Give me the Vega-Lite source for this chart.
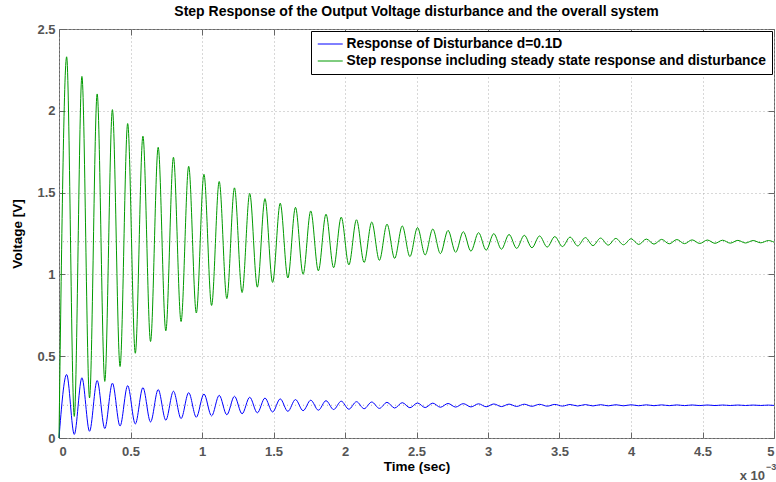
{
  "$schema": "https://vega.github.io/schema/vega-lite/v6.json",
  "width": 715,
  "height": 409,
  "autosize": {"type": "none"},
  "padding": {"left": 59, "top": 29, "right": 2, "bottom": 44},
  "background": "white",
  "title": {
    "text": "Step Response of the Output Voltage disturbance and the overall system",
    "font": "Liberation Sans",
    "fontSize": 14,
    "fontWeight": "bold",
    "color": "black",
    "anchor": "middle",
    "baseline": "alphabetic",
    "offset": -7
  },
  "config": {
    "view": {"stroke": "#666666", "strokeWidth": 1},
    "axis": {
      "labelFont": "Liberation Sans",
      "labelFontSize": 13,
      "labelFontWeight": "bold",
      "labelColor": "#555555",
      "titleFont": "Liberation Sans",
      "titleFontSize": 13.5,
      "titleFontWeight": "bold",
      "titleColor": "black",
      "domain": false,
      "tickColor": "#666666",
      "tickSize": -6,
      "tickWidth": 1,
      "gridColor": "#b0b0b0",
      "gridDash": [1, 3],
      "gridWidth": 1
    }
  },
  "layer": [
    {
      "data": {"values": [{"level": 0.2}, {"level": 1.2}]},
      "mark": {"type": "rule", "color": "#b0b0b0", "strokeDash": [1, 3], "strokeWidth": 1},
      "encoding": {
        "x": {"datum": 0, "type": "quantitative", "scale": {"domain": [0, 5], "nice": false},
          "axis": {"orient": "top", "values": [0, 0.5, 1, 1.5, 2, 2.5, 3, 3.5, 4, 4.5, 5], "labels": false, "grid": false, "title": null}},
        "x2": {"datum": 5},
        "y": {"field": "level", "type": "quantitative", "scale": {"domain": [0, 2.5], "nice": false},
          "axis": {"orient": "right", "values": [0, 0.5, 1, 1.5, 2, 2.5], "labels": false, "grid": false, "title": null}}
      }
    },
    {
      "data": {"values": [
        {"series": "Response of Disturbance d=0.1D", "t": 0, "v": 0},
        {"series": "Response of Disturbance d=0.1D", "t": 0.0535, "v": 0.388},
        {"series": "Response of Disturbance d=0.1D", "t": 0.1068, "v": 0.022},
        {"series": "Response of Disturbance d=0.1D", "t": 0.1602, "v": 0.368},
        {"series": "Response of Disturbance d=0.1D", "t": 0.2135, "v": 0.041},
        {"series": "Response of Disturbance d=0.1D", "t": 0.2669, "v": 0.351},
        {"series": "Response of Disturbance d=0.1D", "t": 0.3202, "v": 0.058},
        {"series": "Response of Disturbance d=0.1D", "t": 0.3735, "v": 0.335},
        {"series": "Response of Disturbance d=0.1D", "t": 0.4269, "v": 0.073},
        {"series": "Response of Disturbance d=0.1D", "t": 0.4802, "v": 0.320},
        {"series": "Response of Disturbance d=0.1D", "t": 0.5336, "v": 0.086},
        {"series": "Response of Disturbance d=0.1D", "t": 0.5869, "v": 0.308},
        {"series": "Response of Disturbance d=0.1D", "t": 0.6402, "v": 0.098},
        {"series": "Response of Disturbance d=0.1D", "t": 0.6936, "v": 0.296},
        {"series": "Response of Disturbance d=0.1D", "t": 0.7469, "v": 0.109},
        {"series": "Response of Disturbance d=0.1D", "t": 0.8003, "v": 0.286},
        {"series": "Response of Disturbance d=0.1D", "t": 0.8536, "v": 0.119},
        {"series": "Response of Disturbance d=0.1D", "t": 0.9069, "v": 0.277},
        {"series": "Response of Disturbance d=0.1D", "t": 0.9603, "v": 0.127},
        {"series": "Response of Disturbance d=0.1D", "t": 1.0136, "v": 0.269},
        {"series": "Response of Disturbance d=0.1D", "t": 1.0670, "v": 0.135},
        {"series": "Response of Disturbance d=0.1D", "t": 1.1203, "v": 0.261},
        {"series": "Response of Disturbance d=0.1D", "t": 1.1736, "v": 0.142},
        {"series": "Response of Disturbance d=0.1D", "t": 1.2270, "v": 0.255},
        {"series": "Response of Disturbance d=0.1D", "t": 1.2803, "v": 0.148},
        {"series": "Response of Disturbance d=0.1D", "t": 1.3337, "v": 0.249},
        {"series": "Response of Disturbance d=0.1D", "t": 1.3870, "v": 0.154},
        {"series": "Response of Disturbance d=0.1D", "t": 1.4403, "v": 0.244},
        {"series": "Response of Disturbance d=0.1D", "t": 1.4937, "v": 0.159},
        {"series": "Response of Disturbance d=0.1D", "t": 1.5470, "v": 0.239},
        {"series": "Response of Disturbance d=0.1D", "t": 1.6004, "v": 0.163},
        {"series": "Response of Disturbance d=0.1D", "t": 1.6537, "v": 0.235},
        {"series": "Response of Disturbance d=0.1D", "t": 1.7070, "v": 0.167},
        {"series": "Response of Disturbance d=0.1D", "t": 1.7604, "v": 0.231},
        {"series": "Response of Disturbance d=0.1D", "t": 1.8137, "v": 0.170},
        {"series": "Response of Disturbance d=0.1D", "t": 1.8671, "v": 0.228},
        {"series": "Response of Disturbance d=0.1D", "t": 1.9204, "v": 0.174},
        {"series": "Response of Disturbance d=0.1D", "t": 1.9737, "v": 0.225},
        {"series": "Response of Disturbance d=0.1D", "t": 2.0271, "v": 0.176},
        {"series": "Response of Disturbance d=0.1D", "t": 2.0804, "v": 0.222},
        {"series": "Response of Disturbance d=0.1D", "t": 2.1338, "v": 0.179},
        {"series": "Response of Disturbance d=0.1D", "t": 2.1871, "v": 0.220},
        {"series": "Response of Disturbance d=0.1D", "t": 2.2404, "v": 0.181},
        {"series": "Response of Disturbance d=0.1D", "t": 2.2938, "v": 0.218},
        {"series": "Response of Disturbance d=0.1D", "t": 2.3471, "v": 0.183},
        {"series": "Response of Disturbance d=0.1D", "t": 2.4005, "v": 0.216},
        {"series": "Response of Disturbance d=0.1D", "t": 2.4538, "v": 0.185},
        {"series": "Response of Disturbance d=0.1D", "t": 2.5071, "v": 0.214},
        {"series": "Response of Disturbance d=0.1D", "t": 2.5605, "v": 0.186},
        {"series": "Response of Disturbance d=0.1D", "t": 2.6138, "v": 0.213},
        {"series": "Response of Disturbance d=0.1D", "t": 2.6672, "v": 0.188},
        {"series": "Response of Disturbance d=0.1D", "t": 2.7205, "v": 0.211},
        {"series": "Response of Disturbance d=0.1D", "t": 2.7738, "v": 0.189},
        {"series": "Response of Disturbance d=0.1D", "t": 2.8272, "v": 0.210},
        {"series": "Response of Disturbance d=0.1D", "t": 2.8805, "v": 0.190},
        {"series": "Response of Disturbance d=0.1D", "t": 2.9339, "v": 0.209},
        {"series": "Response of Disturbance d=0.1D", "t": 2.9872, "v": 0.191},
        {"series": "Response of Disturbance d=0.1D", "t": 3.0405, "v": 0.208},
        {"series": "Response of Disturbance d=0.1D", "t": 3.0939, "v": 0.192},
        {"series": "Response of Disturbance d=0.1D", "t": 3.1472, "v": 0.207},
        {"series": "Response of Disturbance d=0.1D", "t": 3.2006, "v": 0.193},
        {"series": "Response of Disturbance d=0.1D", "t": 3.2539, "v": 0.2065},
        {"series": "Response of Disturbance d=0.1D", "t": 3.3072, "v": 0.1938},
        {"series": "Response of Disturbance d=0.1D", "t": 3.3606, "v": 0.2059},
        {"series": "Response of Disturbance d=0.1D", "t": 3.4139, "v": 0.1945},
        {"series": "Response of Disturbance d=0.1D", "t": 3.4673, "v": 0.2052},
        {"series": "Response of Disturbance d=0.1D", "t": 3.5206, "v": 0.1951},
        {"series": "Response of Disturbance d=0.1D", "t": 3.5739, "v": 0.2047},
        {"series": "Response of Disturbance d=0.1D", "t": 3.6273, "v": 0.1956},
        {"series": "Response of Disturbance d=0.1D", "t": 3.6806, "v": 0.2042},
        {"series": "Response of Disturbance d=0.1D", "t": 3.7340, "v": 0.1960},
        {"series": "Response of Disturbance d=0.1D", "t": 3.7873, "v": 0.2037},
        {"series": "Response of Disturbance d=0.1D", "t": 3.8406, "v": 0.1965},
        {"series": "Response of Disturbance d=0.1D", "t": 3.8940, "v": 0.2033},
        {"series": "Response of Disturbance d=0.1D", "t": 3.9473, "v": 0.1968},
        {"series": "Response of Disturbance d=0.1D", "t": 4.0007, "v": 0.2030},
        {"series": "Response of Disturbance d=0.1D", "t": 4.0540, "v": 0.1972},
        {"series": "Response of Disturbance d=0.1D", "t": 4.1073, "v": 0.2027},
        {"series": "Response of Disturbance d=0.1D", "t": 4.1607, "v": 0.1975},
        {"series": "Response of Disturbance d=0.1D", "t": 4.2140, "v": 0.2024},
        {"series": "Response of Disturbance d=0.1D", "t": 4.2674, "v": 0.1977},
        {"series": "Response of Disturbance d=0.1D", "t": 4.3207, "v": 0.2021},
        {"series": "Response of Disturbance d=0.1D", "t": 4.3740, "v": 0.1980},
        {"series": "Response of Disturbance d=0.1D", "t": 4.4274, "v": 0.2019},
        {"series": "Response of Disturbance d=0.1D", "t": 4.4807, "v": 0.1982},
        {"series": "Response of Disturbance d=0.1D", "t": 4.5341, "v": 0.2017},
        {"series": "Response of Disturbance d=0.1D", "t": 4.5874, "v": 0.1984},
        {"series": "Response of Disturbance d=0.1D", "t": 4.6407, "v": 0.2015},
        {"series": "Response of Disturbance d=0.1D", "t": 4.6941, "v": 0.1986},
        {"series": "Response of Disturbance d=0.1D", "t": 4.7474, "v": 0.2014},
        {"series": "Response of Disturbance d=0.1D", "t": 4.8008, "v": 0.1987},
        {"series": "Response of Disturbance d=0.1D", "t": 4.8541, "v": 0.2012},
        {"series": "Response of Disturbance d=0.1D", "t": 4.9074, "v": 0.1988},
        {"series": "Response of Disturbance d=0.1D", "t": 4.9608, "v": 0.2011},
        {"series": "Response of Disturbance d=0.1D", "t": 5.0, "v": 0.1992},
        {"series": "Step response including steady state response and disturbance", "t": 0, "v": 0},
        {"series": "Step response including steady state response and disturbance", "t": 0.0535, "v": 2.330},
        {"series": "Step response including steady state response and disturbance", "t": 0.1068, "v": 0.132},
        {"series": "Step response including steady state response and disturbance", "t": 0.1602, "v": 2.210},
        {"series": "Step response including steady state response and disturbance", "t": 0.2135, "v": 0.245},
        {"series": "Step response including steady state response and disturbance", "t": 0.2669, "v": 2.103},
        {"series": "Step response including steady state response and disturbance", "t": 0.3202, "v": 0.346},
        {"series": "Step response including steady state response and disturbance", "t": 0.3735, "v": 2.007},
        {"series": "Step response including steady state response and disturbance", "t": 0.4269, "v": 0.437},
        {"series": "Step response including steady state response and disturbance", "t": 0.4802, "v": 1.922},
        {"series": "Step response including steady state response and disturbance", "t": 0.5336, "v": 0.518},
        {"series": "Step response including steady state response and disturbance", "t": 0.5869, "v": 1.845},
        {"series": "Step response including steady state response and disturbance", "t": 0.6402, "v": 0.590},
        {"series": "Step response including steady state response and disturbance", "t": 0.6936, "v": 1.777},
        {"series": "Step response including steady state response and disturbance", "t": 0.7469, "v": 0.655},
        {"series": "Step response including steady state response and disturbance", "t": 0.8003, "v": 1.716},
        {"series": "Step response including steady state response and disturbance", "t": 0.8536, "v": 0.712},
        {"series": "Step response including steady state response and disturbance", "t": 0.9069, "v": 1.661},
        {"series": "Step response including steady state response and disturbance", "t": 0.9603, "v": 0.764},
        {"series": "Step response including steady state response and disturbance", "t": 1.0136, "v": 1.612},
        {"series": "Step response including steady state response and disturbance", "t": 1.0670, "v": 0.810},
        {"series": "Step response including steady state response and disturbance", "t": 1.1203, "v": 1.568},
        {"series": "Step response including steady state response and disturbance", "t": 1.1736, "v": 0.852},
        {"series": "Step response including steady state response and disturbance", "t": 1.2270, "v": 1.529},
        {"series": "Step response including steady state response and disturbance", "t": 1.2803, "v": 0.889},
        {"series": "Step response including steady state response and disturbance", "t": 1.3337, "v": 1.495},
        {"series": "Step response including steady state response and disturbance", "t": 1.3870, "v": 0.922},
        {"series": "Step response including steady state response and disturbance", "t": 1.4403, "v": 1.463},
        {"series": "Step response including steady state response and disturbance", "t": 1.4937, "v": 0.951},
        {"series": "Step response including steady state response and disturbance", "t": 1.5470, "v": 1.435},
        {"series": "Step response including steady state response and disturbance", "t": 1.6004, "v": 0.978},
        {"series": "Step response including steady state response and disturbance", "t": 1.6537, "v": 1.410},
        {"series": "Step response including steady state response and disturbance", "t": 1.7070, "v": 1.001},
        {"series": "Step response including steady state response and disturbance", "t": 1.7604, "v": 1.388},
        {"series": "Step response including steady state response and disturbance", "t": 1.8137, "v": 1.022},
        {"series": "Step response including steady state response and disturbance", "t": 1.8671, "v": 1.368},
        {"series": "Step response including steady state response and disturbance", "t": 1.9204, "v": 1.041},
        {"series": "Step response including steady state response and disturbance", "t": 1.9737, "v": 1.350},
        {"series": "Step response including steady state response and disturbance", "t": 2.0271, "v": 1.058},
        {"series": "Step response including steady state response and disturbance", "t": 2.0804, "v": 1.334},
        {"series": "Step response including steady state response and disturbance", "t": 2.1338, "v": 1.073},
        {"series": "Step response including steady state response and disturbance", "t": 2.1871, "v": 1.320},
        {"series": "Step response including steady state response and disturbance", "t": 2.2404, "v": 1.086},
        {"series": "Step response including steady state response and disturbance", "t": 2.2938, "v": 1.307},
        {"series": "Step response including steady state response and disturbance", "t": 2.3471, "v": 1.098},
        {"series": "Step response including steady state response and disturbance", "t": 2.4005, "v": 1.296},
        {"series": "Step response including steady state response and disturbance", "t": 2.4538, "v": 1.109},
        {"series": "Step response including steady state response and disturbance", "t": 2.5071, "v": 1.286},
        {"series": "Step response including steady state response and disturbance", "t": 2.5605, "v": 1.119},
        {"series": "Step response including steady state response and disturbance", "t": 2.6138, "v": 1.277},
        {"series": "Step response including steady state response and disturbance", "t": 2.6672, "v": 1.127},
        {"series": "Step response including steady state response and disturbance", "t": 2.7205, "v": 1.269},
        {"series": "Step response including steady state response and disturbance", "t": 2.7738, "v": 1.135},
        {"series": "Step response including steady state response and disturbance", "t": 2.8272, "v": 1.261},
        {"series": "Step response including steady state response and disturbance", "t": 2.8805, "v": 1.142},
        {"series": "Step response including steady state response and disturbance", "t": 2.9339, "v": 1.255},
        {"series": "Step response including steady state response and disturbance", "t": 2.9872, "v": 1.148},
        {"series": "Step response including steady state response and disturbance", "t": 3.0405, "v": 1.249},
        {"series": "Step response including steady state response and disturbance", "t": 3.0939, "v": 1.154},
        {"series": "Step response including steady state response and disturbance", "t": 3.1472, "v": 1.244},
        {"series": "Step response including steady state response and disturbance", "t": 3.2006, "v": 1.159},
        {"series": "Step response including steady state response and disturbance", "t": 3.2539, "v": 1.239},
        {"series": "Step response including steady state response and disturbance", "t": 3.3072, "v": 1.163},
        {"series": "Step response including steady state response and disturbance", "t": 3.3606, "v": 1.235},
        {"series": "Step response including steady state response and disturbance", "t": 3.4139, "v": 1.167},
        {"series": "Step response including steady state response and disturbance", "t": 3.4673, "v": 1.231},
        {"series": "Step response including steady state response and disturbance", "t": 3.5206, "v": 1.170},
        {"series": "Step response including steady state response and disturbance", "t": 3.5739, "v": 1.228},
        {"series": "Step response including steady state response and disturbance", "t": 3.6273, "v": 1.174},
        {"series": "Step response including steady state response and disturbance", "t": 3.6806, "v": 1.225},
        {"series": "Step response including steady state response and disturbance", "t": 3.7340, "v": 1.176},
        {"series": "Step response including steady state response and disturbance", "t": 3.7873, "v": 1.222},
        {"series": "Step response including steady state response and disturbance", "t": 3.8406, "v": 1.179},
        {"series": "Step response including steady state response and disturbance", "t": 3.8940, "v": 1.220},
        {"series": "Step response including steady state response and disturbance", "t": 3.9473, "v": 1.181},
        {"series": "Step response including steady state response and disturbance", "t": 4.0007, "v": 1.218},
        {"series": "Step response including steady state response and disturbance", "t": 4.0540, "v": 1.183},
        {"series": "Step response including steady state response and disturbance", "t": 4.1073, "v": 1.216},
        {"series": "Step response including steady state response and disturbance", "t": 4.1607, "v": 1.185},
        {"series": "Step response including steady state response and disturbance", "t": 4.2140, "v": 1.214},
        {"series": "Step response including steady state response and disturbance", "t": 4.2674, "v": 1.187},
        {"series": "Step response including steady state response and disturbance", "t": 4.3207, "v": 1.213},
        {"series": "Step response including steady state response and disturbance", "t": 4.3740, "v": 1.188},
        {"series": "Step response including steady state response and disturbance", "t": 4.4274, "v": 1.211},
        {"series": "Step response including steady state response and disturbance", "t": 4.4807, "v": 1.189},
        {"series": "Step response including steady state response and disturbance", "t": 4.5341, "v": 1.210},
        {"series": "Step response including steady state response and disturbance", "t": 4.5874, "v": 1.190},
        {"series": "Step response including steady state response and disturbance", "t": 4.6407, "v": 1.209},
        {"series": "Step response including steady state response and disturbance", "t": 4.6941, "v": 1.191},
        {"series": "Step response including steady state response and disturbance", "t": 4.7474, "v": 1.208},
        {"series": "Step response including steady state response and disturbance", "t": 4.8008, "v": 1.192},
        {"series": "Step response including steady state response and disturbance", "t": 4.8541, "v": 1.207},
        {"series": "Step response including steady state response and disturbance", "t": 4.9074, "v": 1.193},
        {"series": "Step response including steady state response and disturbance", "t": 4.9608, "v": 1.207},
        {"series": "Step response including steady state response and disturbance", "t": 5.0, "v": 1.197}
      ]},
      "mark": {"type": "line", "interpolate": "monotone", "strokeWidth": 1},
      "encoding": {
        "x": {"field": "t", "type": "quantitative", "scale": {"domain": [0, 5], "nice": false},
          "axis": {"orient": "bottom", "values": [0, 0.5, 1, 1.5, 2, 2.5, 3, 3.5, 4, 4.5, 5], "format": ".1~f",
            "title": "Time (sec)", "labelPadding": 13, "titlePadding": 1, "grid": true}},
        "y": {"field": "v", "type": "quantitative", "scale": {"domain": [0, 2.5], "nice": false},
          "axis": {"orient": "left", "values": [0, 0.5, 1, 1.5, 2, 2.5], "format": ".1~f",
            "title": "Voltage [V]", "labelPadding": 10, "titlePadding": 12, "grid": true}},
        "color": {"field": "series", "type": "nominal",
          "scale": {"domain": ["Response of Disturbance d=0.1D", "Step response including steady state response and disturbance"], "range": ["#0000ff", "#009a00"]},
          "legend": {
            "title": null,
            "orient": "top-right",
            "offset": 2,
            "strokeColor": "black",
            "fillColor": "white",
            "padding": 6,
            "symbolType": "M-1,0L3,0",
            "symbolSize": 156,
            "symbolStrokeWidth": 1,
            "labelFont": "Liberation Sans",
            "labelFontSize": 13.8,
            "labelFontWeight": "bold",
            "labelColor": "black",
            "labelOffset": 15.5,
            "rowPadding": 3,
            "labelLimit": 600
          }
        }
      }
    },
    {
      "data": {"values": [{}]},
      "mark": {"type": "text", "text": "x 10", "font": "Liberation Sans", "fontSize": 13, "fontWeight": "bold", "color": "#555555", "align": "right", "baseline": "middle", "dx": -9, "dy": 38},
      "encoding": {
        "x": {"datum": 5, "type": "quantitative", "axis": null},
        "y": {"datum": 0, "type": "quantitative", "axis": null}
      }
    },
    {
      "data": {"values": [{}]},
      "mark": {"type": "text", "text": "−3", "font": "Liberation Sans", "fontSize": 9, "fontWeight": "bold", "color": "#555555", "align": "left", "baseline": "middle", "dx": -8, "dy": 29},
      "encoding": {
        "x": {"datum": 5, "type": "quantitative", "axis": null},
        "y": {"datum": 0, "type": "quantitative", "axis": null}
      }
    }
  ],
  "resolve": {"axis": {"x": "independent", "y": "independent"}}
}
